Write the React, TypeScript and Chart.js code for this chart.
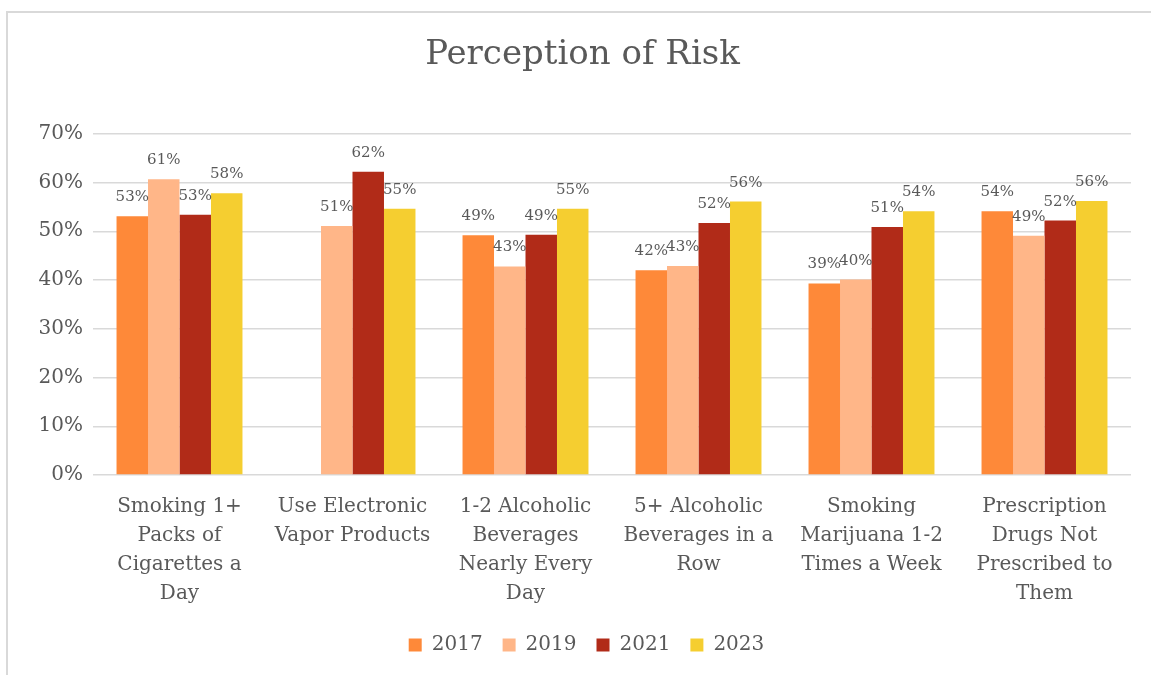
import React, { useEffect, useRef } from "react";
import { Chart, registerables } from "chart.js";

Chart.register(...registerables);

const categories: string[][] = [
  ["Smoking 1+", "Packs of", "Cigarettes a", "Day"],
  ["Use Electronic", "Vapor Products"],
  ["1-2 Alcoholic", "Beverages", "Nearly Every", "Day"],
  ["5+ Alcoholic", "Beverages in a", "Row"],
  ["Smoking", "Marijuana 1-2", "Times a Week"],
  ["Prescription", "Drugs Not", "Prescribed to", "Them"],
];

const seriesNames = ["2017", "2019", "2021", "2023"];
const values2017: (number | null)[] = [53.1, null, 49.2, 42.0, 39.3, 54.1];
const values2019: (number | null)[] = [60.7, 51.1, 42.8, 42.9, 40.1, 49.1];
const values2021: (number | null)[] = [53.4, 62.2, 49.3, 51.7, 50.9, 52.2];
const values2023: (number | null)[] = [57.8, 54.6, 54.6, 56.1, 54.1, 56.2];
const seriesColors = ["#FE8939", "#FFB688", "#B12B18", "#F5CE30"];
const yTickLabels = ["0%", "10%", "20%", "30%", "40%", "50%", "60%", "70%"];

const FONT = "'DejaVu Serif', serif";
const TEXT = "#595959";

const dataLabelPlugin = {
  id: "dataLabels",
  afterDatasetsDraw(chart: any) {
    const ctx = chart.ctx;
    ctx.save();
    ctx.font = `15px ${FONT}`;
    ctx.fillStyle = TEXT;
    ctx.textAlign = "center";
    ctx.textBaseline = "alphabetic";
    chart.data.datasets.forEach((ds: any, di: number) => {
      const meta = chart.getDatasetMeta(di);
      meta.data.forEach((el: any, i: number) => {
        const v = ds.data[i];
        if (v === null || v === undefined) return;
        ctx.fillText(Math.round(v) + "%", el.x, el.y - 15);
      });
    });
    ctx.restore();
  },
};

const borderPlugin = {
  id: "outerBorder",
  beforeDraw(chart: any) {
    const ctx = chart.ctx;
    ctx.save();
    ctx.strokeStyle = "#D9D9D9";
    ctx.lineWidth = 2;
    ctx.beginPath();
    ctx.moveTo(7, chart.height + 5);
    ctx.lineTo(7, 12);
    ctx.lineTo(chart.width + 5, 12);
    ctx.stroke();
    ctx.restore();
  },
};

// the original chart frame extends past the right edge, so title and legend sit right of canvas centre
const shiftPlugin = {
  id: "shiftBoxes",
  afterLayout(chart: any) {
    if (chart.titleBlock) {
      chart.titleBlock.left += 17;
      chart.titleBlock.right += 17;
    }
    if (chart.legend) {
      chart.legend.left += 21;
      chart.legend.right += 21;
    }
  },
};

export default function App() {
  const ref = useRef<HTMLCanvasElement>(null);
  useEffect(() => {
    if (!ref.current) return;
    const all = [values2017, values2019, values2021, values2023];
    const chart = new Chart(ref.current, {
      type: "bar",
      data: {
        labels: categories,
        datasets: seriesNames.map((n, i) => ({
          label: n,
          data: all[i],
          backgroundColor: seriesColors[i],
          borderWidth: 0,
          barPercentage: 1,
          categoryPercentage: 0.728,
        })),
      },
      options: {
        responsive: false,
        animation: false,
        layout: { padding: { left: 0, right: 20, top: 0, bottom: 10 } },
        plugins: {
          title: {
            display: true,
            text: "Perception of Risk",
            color: TEXT,
            font: { family: FONT, size: 34, weight: "normal" },
            padding: { top: 35, bottom: 58 },
          },
          legend: {
            position: "bottom",
            labels: {
              color: TEXT,
              font: { family: FONT, size: 20 },
              boxWidth: 13,
              boxHeight: 13,
              padding: 20,
            },
          },
          tooltip: { enabled: false },
        },
        scales: {
          x: {
            grid: { display: false, drawTicks: false },
            border: { display: false },
            ticks: {
              color: TEXT,
              font: { family: FONT, size: 20, lineHeight: 1.45 },
              maxRotation: 0,
              minRotation: 0,
              autoSkip: false,
              padding: 17,
            },
            afterFit: (s: any) => {
              s.height = 140;
            },
          },
          y: {
            min: 0,
            max: 70,
            grid: { color: "#D9D9D9", lineWidth: 1.5, drawTicks: false },
            border: { display: false },
            ticks: {
              stepSize: 10,
              color: TEXT,
              font: { family: FONT, size: 20 },
              padding: 10,
              callback: (_v: any, idx: number) => yTickLabels[idx],
            },
            afterFit: (s: any) => {
              s.width = 93;
            },
          },
        },
      },
      plugins: [dataLabelPlugin, borderPlugin, shiftPlugin],
    });
    return () => chart.destroy();
  }, []);
  return (
    <div style={{ position: "fixed", left: 0, top: 0, width: 1151, height: 675, background: "#fff" }}>
      <canvas ref={ref} width={1151} height={675} />
    </div>
  );
}
